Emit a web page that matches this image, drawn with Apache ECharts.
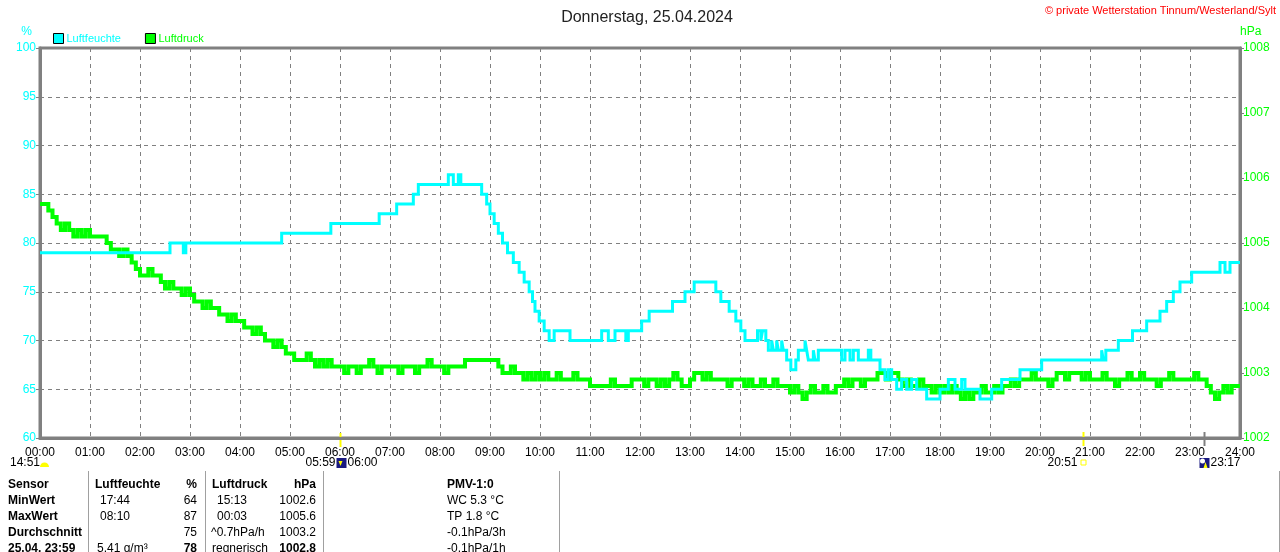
<!DOCTYPE html>
<html>
<head>
<meta charset="utf-8">
<title>Donnerstag, 25.04.2024</title>
<script src="https://cdn.jsdelivr.net/npm/echarts@6/dist/echarts.min.js"></script>
<style>
  html, body { margin: 0; padding: 0; background: #fff; }
  #canvas { width: 1280px; height: 552px; }
</style>
</head>
<body>
<div id="canvas"></div>
<script>
// Stundenbeschriftung der x-Achse
var hourLabels = ['00:00','01:00','02:00','03:00','04:00','05:00','06:00','07:00','08:00','09:00','10:00','11:00',
  '12:00','13:00','14:00','15:00','16:00','17:00','18:00','19:00','20:00','21:00','22:00','23:00','24:00'];

// Luftfeuchte in %: [Minute des Tages, Wert], Wert gilt bis zum naechsten Eintrag
var humidity = [
  [0,79],[156,80],[172,79],[175,80],[290,81],[349,82],[407,83],[428,84],[448,85],[454,86],
  [490,87],[496,86],[502,87],[505,86],[530,85],[536,84],[540,83],[545,82],[550,81],[555,80],
  [561,79],[568,78],[575,77],[581,76],[587,75],[591,74],[594,73],[599,72],[605,71],[611,70],
  [617,71],[636,70],[674,71],[682,70],[690,71],[703,70],[706,71],[722,72],[731,73],[759,74],
  [774,75],[785,76],[811,75],[817,74],[827,73],[835,72],[841,71],[846,70],[861,71],[865,70],
  [867,71],[871,70],[874,69],[878,70],[880,69],[884,70],[886,69],[890,70],[892,69],[896,68],
  [901,67],[907,68],[910,69],[918,70],[920,69],[922,68],[928,69],[930,68],[934,69],[962,68],
  [966,69],[972,68],[976,69],[982,68],[994,69],[997,68],[1008,67],[1014,66],[1018,67],[1022,66],
  [1028,65],[1034,66],[1040,65],[1046,66],[1052,65],[1064,64],[1080,65],[1090,66],[1098,65],
  [1106,66],[1110,65],[1128,64],[1142,65],[1154,66],[1176,67],[1202,68],[1274,69],[1276,68],
  [1279,69],[1294,70],[1311,71],[1328,72],[1344,73],[1352,74],[1360,75],[1368,76],[1382,77],
  [1416,78],[1422,77],[1428,78],[1440,78]
];

// Luftdruck in hPa, alle 5 Minuten ab 00:00 (eine Zeile je Stunde)
var pressure = [
  1005.6,1005.6,1005.5,1005.4,1005.3,1005.2,1005.3,1005.2,1005.1,1005.2,1005.1,1005.2,
  1005.1,1005.1,1005.1,1005.1,1005.0,1004.9,1004.9,1004.8,1004.9,1004.8,1004.7,1004.6,
  1004.5,1004.5,1004.6,1004.5,1004.5,1004.4,1004.3,1004.4,1004.3,1004.3,1004.2,1004.3,
  1004.2,1004.1,1004.1,1004.0,1004.1,1004.0,1004.0,1003.9,1003.9,1003.8,1003.9,1003.8,
  1003.8,1003.7,1003.7,1003.6,1003.7,1003.6,1003.5,1003.5,1003.4,1003.5,1003.4,1003.3,
  1003.3,1003.2,1003.2,1003.2,1003.3,1003.2,1003.1,1003.2,1003.1,1003.2,1003.1,1003.1,
  1003.1,1003.0,1003.1,1003.1,1003.0,1003.1,1003.1,1003.2,1003.1,1003.0,1003.1,1003.1,
  1003.1,1003.1,1003.0,1003.1,1003.1,1003.1,1003.0,1003.1,1003.1,1003.2,1003.1,1003.1,
  1003.1,1003.0,1003.1,1003.1,1003.1,1003.1,1003.2,1003.2,1003.2,1003.2,1003.2,1003.2,
  1003.2,1003.2,1003.1,1003.0,1003.0,1003.1,1003.0,1003.0,1002.9,1003.0,1002.9,1003.0,
  1002.9,1003.0,1002.9,1002.9,1003.0,1002.9,1002.9,1002.9,1003.0,1002.9,1002.9,1002.9,
  1002.8,1002.8,1002.8,1002.8,1002.8,1002.9,1002.8,1002.8,1002.8,1002.8,1002.9,1002.9,
  1002.9,1002.8,1002.9,1002.9,1002.8,1002.9,1002.8,1002.9,1003.0,1002.9,1002.8,1002.8,
  1002.9,1003.0,1003.0,1002.9,1003.0,1002.9,1002.9,1002.9,1002.9,1002.8,1002.9,1002.9,
  1002.9,1002.8,1002.9,1002.8,1002.8,1002.9,1002.8,1002.8,1002.9,1002.8,1002.8,1002.8,
  1002.7,1002.8,1002.7,1002.6,1002.7,1002.8,1002.7,1002.7,1002.8,1002.7,1002.7,1002.8,
  1002.8,1002.9,1002.8,1002.9,1002.9,1002.8,1002.9,1002.9,1002.9,1003.0,1003.0,1002.9,
  1003.0,1003.0,1002.9,1002.8,1002.9,1002.8,1002.8,1002.9,1002.8,1002.8,1002.7,1002.8,
  1002.7,1002.8,1002.7,1002.8,1002.7,1002.6,1002.7,1002.6,1002.7,1002.7,1002.8,1002.7,
  1002.7,1002.8,1002.7,1002.8,1002.8,1002.9,1002.8,1002.9,1002.9,1002.9,1003.0,1002.9,
  1002.9,1002.9,1002.8,1002.9,1003.0,1003.0,1002.9,1003.0,1003.0,1003.0,1002.9,1003.0,
  1002.9,1002.9,1002.9,1003.0,1002.9,1002.9,1002.8,1002.9,1002.9,1003.0,1002.9,1002.9,
  1003.0,1002.9,1002.9,1002.9,1002.8,1002.9,1002.9,1003.0,1002.9,1002.9,1002.9,1002.9,
  1002.9,1003.0,1002.9,1002.9,1002.8,1002.7,1002.6,1002.7,1002.8,1002.7,1002.8,1002.8,
  1002.8
];

// Sonnen- und Mondzeiten unter der Achse (Minute des Tages)
var sunRise = 360, sunSet = 1251, moonRise = 1397;

// Tabelle unter dem Diagramm
var tableRows = [
  ['Sensor', 'Luftfeuchte', '%', 'Luftdruck', 'hPa', 'PMV-1:0'],
  ['MinWert', '17:44', '64', '15:13', '1002.6', 'WC 5.3 °C'],
  ['MaxWert', '08:10', '87', '00:03', '1005.6', 'TP 1.8 °C'],
  ['Durchschnitt', '', '75', '^0.7hPa/h', '1003.2', '-0.1hPa/3h'],
  ['25.04. 23:59', '5.41 g/m³', '78', 'regnerisch', '1002.8', '-0.1hPa/1h']
];

var FONT = '"Liberation Sans", Arial, sans-serif';
var GRAY = '#808080';

var pressureData = pressure.map(function (v, i) { return [i * 5, v]; });

var myChart = echarts.init(document.getElementById('canvas'));

var option = {
  backgroundColor: '#fff',
  animation: false,
  textStyle: { fontFamily: FONT },
  title: {
    text: 'Donnerstag, 25.04.2024',
    left: 642, top: 5, textAlign: 'center',
    textStyle: { fontSize: 16, fontWeight: 'normal', color: '#222', fontFamily: FONT }
  },
  legend: {
    left: 48, top: 28, itemGap: 24, itemWidth: 10, itemHeight: 10, icon: 'rect',
    selectedMode: false,
    itemStyle: { borderColor: '#000', borderWidth: 1 },
    textStyle: { fontSize: 11, fontFamily: FONT, padding: [0, 0, 0, -2] },
    data: [
      { name: 'Luftfeuchte', textStyle: { color: '#00ffff' } },
      { name: 'Luftdruck', textStyle: { color: '#00ff00' } }
    ]
  },
  grid: {
    left: 40, right: 40, top: 48, bottom: 114,
    show: true, borderColor: GRAY, borderWidth: 3
  },
  xAxis: {
    type: 'value', min: 0, max: 1440, interval: 60,
    axisLine: { lineStyle: { color: GRAY, width: 3 } },
    axisTick: { show: false },
    axisLabel: {
      color: '#000', fontSize: 12, margin: 9, fontFamily: FONT,
      formatter: function (v) { return hourLabels[v / 60]; }
    },
    splitLine: { show: true, lineStyle: { color: GRAY, type: [4, 4], width: 1 } }
  },
  yAxis: [
    {
      type: 'value', min: 60, max: 100, interval: 5,
      name: '%', nameLocation: 'end', nameGap: 10,
      nameTextStyle: { color: '#00ffff', fontSize: 12, align: 'right', padding: [0, 8, 0, 0] },
      axisLine: { show: true, lineStyle: { color: GRAY, width: 3 } },
      axisTick: { show: true, length: 4, lineStyle: { color: GRAY } },
      axisLabel: { color: '#00ffff', fontSize: 12, margin: 4, fontFamily: FONT },
      splitLine: { show: true, lineStyle: { color: GRAY, type: [4, 4], width: 1 } }
    },
    {
      type: 'value', min: 1002, max: 1008, interval: 1,
      name: 'hPa', nameLocation: 'end', nameGap: 10,
      nameTextStyle: { color: '#00ff00', fontSize: 12, align: 'left', padding: [0, 0, 0, 0] },
      axisLine: { show: true, lineStyle: { color: GRAY, width: 3 } },
      axisTick: { show: true, length: 4, lineStyle: { color: GRAY } },
      axisLabel: {
        color: '#00ff00', fontSize: 12, margin: 3, fontFamily: FONT,
        formatter: function (v) { return String(v); }
      },
      splitLine: { show: false }
    }
  ],
  series: [
    {
      name: 'Luftfeuchte', type: 'line', yAxisIndex: 0, step: 'end',
      data: humidity, showSymbol: false, symbol: 'none',
      itemStyle: { color: '#00ffff' },
      lineStyle: { color: '#00ffff', width: 3, join: 'miter', cap: 'butt' },
      z: 3
    },
    {
      name: 'Luftdruck', type: 'line', yAxisIndex: 1, step: 'end',
      data: pressureData, showSymbol: false, symbol: 'none',
      itemStyle: { color: '#00ff00' },
      lineStyle: { color: '#00ff00', width: 4, join: 'miter', cap: 'butt' },
      z: 2
    }
  ]
};

myChart.setOption(option);

// Anmerkungen unter der Achse und Tabelle als Grafik-Elemente
function px(min) { return myChart.convertToPixel({ xAxisIndex: 0 }, min); }

var g = [];
g.push({ type: 'text', right: 4, top: 5,
  style: { text: '© private Wetterstation Tinnum/Westerland/Sylt', fill: '#ff0000', font: '11px ' + FONT } });

// Mond 00:00
g.push({ type: 'text', left: 10, top: 457, style: { text: '14:51', fill: '#000', font: '12px ' + FONT } });
g.push({ type: 'sector', shape: { cx: 44.5, cy: 467, r: 4.5, startAngle: Math.PI, endAngle: 2 * Math.PI },
  style: { fill: '#ffff00' } });

// Sonnenaufgang
var xr = Math.round(px(sunRise)) + 0.5;
g.push({ type: 'line', shape: { x1: xr, y1: 433, x2: xr, y2: 447 }, style: { stroke: '#ffff00', lineWidth: 2 } });
g.push({ type: 'text', x: xr - 5, y: 457, style: { text: '05:59', fill: '#000', font: '12px ' + FONT, align: 'right' } });
g.push({ type: 'rect', shape: { x: xr - 4, y: 458, width: 10, height: 10 }, style: { fill: '#1a1a80' } });
g.push({ type: 'polygon', shape: { points: [[xr - 2, 461], [xr + 2, 461], [xr, 466]] }, style: { fill: '#ffff00' } });
g.push({ type: 'text', x: xr + 7, y: 457, style: { text: '06:00', fill: '#000', font: '12px ' + FONT } });

// Sonnenuntergang
var xs = Math.round(px(sunSet)) + 0.5;
g.push({ type: 'line', shape: { x1: xs, y1: 432, x2: xs, y2: 446 }, style: { stroke: '#ffff00', lineWidth: 2 } });
g.push({ type: 'text', x: xs - 6, y: 457, style: { text: '20:51', fill: '#000', font: '12px ' + FONT, align: 'right' } });
g.push({ type: 'rect', shape: { x: xs - 2.5, y: 460, width: 5, height: 5 }, style: { fill: 'none', stroke: '#ffff00', lineWidth: 1 } });

// Mondaufgang
var xm = Math.round(px(moonRise)) + 0.5;
g.push({ type: 'line', shape: { x1: xm, y1: 432, x2: xm, y2: 446 }, style: { stroke: GRAY, lineWidth: 2 } });
g.push({ type: 'rect', shape: { x: xm - 5, y: 458, width: 10, height: 10 }, style: { fill: '#1a1a80' } });
g.push({ type: 'circle', shape: { cx: xm - 2, cy: 461, r: 2.5 }, style: { fill: '#ffffff' } });
g.push({ type: 'polygon', shape: { points: [[xm - 1, 468], [xm + 3, 468], [xm + 1, 462]] }, style: { fill: '#ffff00' } });
g.push({ type: 'text', x: xm + 6, y: 457, style: { text: '23:17', fill: '#000', font: '12px ' + FONT } });

// Tabellen-Trennlinien
[88, 205, 323, 559, 1279].forEach(function (x) {
  g.push({ type: 'line', shape: { x1: x + 0.5, y1: 471, x2: x + 0.5, y2: 552 }, style: { stroke: '#a0a0a0', lineWidth: 1 } });
});

// Tabelleninhalt: [x, Ausrichtung] je Spalte
var colPos = [[8, 'left'], [100, 'left'], [197, 'right'], [217, 'left'], [316, 'right'], [447, 'left']];
var rowY = [485, 501, 517, 533, 549];
tableRows.forEach(function (row, r) {
  row.forEach(function (txt, c) {
    var x = colPos[c][0];
    if (r === 0 && c === 1) x = 95;
    if (r === 0 && c === 3) x = 212;
    if (r === 3 && c === 3) x = 211;
    if (r === 4 && c === 1) x = 97;
    if (r === 4 && c === 3) x = 212;
    var bold = (r === 0 || c === 0 || (r === 4 && (c === 2 || c === 4)));
    g.push({ type: 'text', x: x, y: rowY[r],
      style: { text: txt, fill: '#000', font: (bold ? 'bold ' : '') + '12px ' + FONT,
        align: colPos[c][1], verticalAlign: 'middle' } });
  });
});

myChart.setOption({ graphic: g });
</script>
</body>
</html>
